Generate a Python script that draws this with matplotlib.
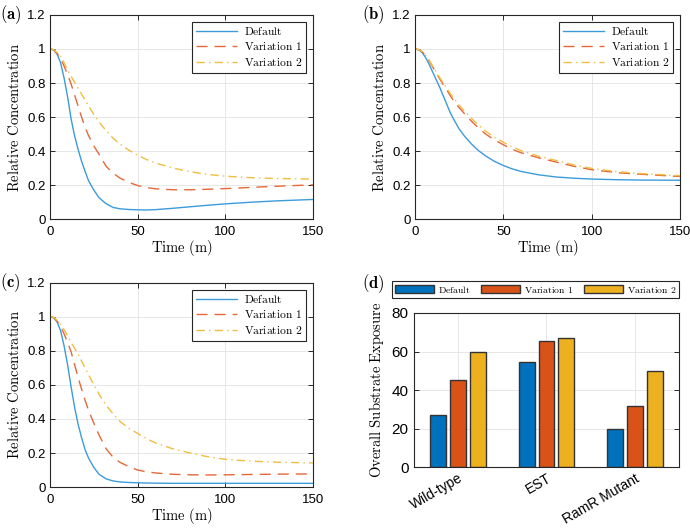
import matplotlib
matplotlib.use("Agg")
import matplotlib.pyplot as plt
import numpy as np

plt.rcParams['font.family'] = ['Liberation Sans', 'DejaVu Sans']
plt.rcParams['mathtext.fontset'] = 'cm'

# time points (minutes)
t = [0, 2, 4, 6, 8, 10, 12, 14, 16, 18, 20, 22, 25, 28, 32, 36, 40, 45, 50, 55,
     60, 70, 80, 90, 100, 115, 130, 150]

# panel (a)
a_default = [1.0, 0.995, 0.97, 0.92, 0.83, 0.72, 0.59, 0.49, 0.41, 0.34, 0.28, 0.225,
             0.17, 0.125, 0.09, 0.068, 0.06, 0.056, 0.054, 0.053, 0.055, 0.063, 0.072,
             0.081, 0.089, 0.099, 0.107, 0.115]
a_var1 = [1.0, 0.995, 0.975, 0.945, 0.9, 0.85, 0.795, 0.73, 0.665, 0.6, 0.54, 0.49,
          0.43, 0.38, 0.31, 0.27, 0.24, 0.215, 0.197, 0.185, 0.178, 0.172, 0.172,
          0.175, 0.179, 0.186, 0.193, 0.201]
a_var2 = [1.0, 0.997, 0.98, 0.955, 0.92, 0.875, 0.84, 0.805, 0.77, 0.735, 0.7, 0.665,
          0.615, 0.57, 0.52, 0.475, 0.44, 0.405, 0.375, 0.35, 0.33, 0.3, 0.278,
          0.262, 0.252, 0.243, 0.238, 0.235]

# panel (b)
b_default = [1.0, 0.995, 0.98, 0.95, 0.91, 0.865, 0.82, 0.775, 0.725, 0.675, 0.625,
             0.585, 0.53, 0.488, 0.441, 0.402, 0.371, 0.339, 0.315, 0.295, 0.28,
             0.26, 0.247, 0.24, 0.235, 0.231, 0.229, 0.228]
b_var1 = [1.0, 0.997, 0.985, 0.96, 0.93, 0.895, 0.86, 0.825, 0.79, 0.76, 0.725, 0.695,
          0.655, 0.62, 0.575, 0.535, 0.5, 0.465, 0.437, 0.41, 0.39, 0.36, 0.335,
          0.31, 0.29, 0.272, 0.262, 0.25]
b_var2 = [1.0, 0.997, 0.986, 0.963, 0.935, 0.9, 0.866, 0.832, 0.8, 0.77, 0.738, 0.71,
          0.67, 0.635, 0.592, 0.552, 0.517, 0.48, 0.452, 0.425, 0.402, 0.37, 0.344,
          0.318, 0.298, 0.278, 0.266, 0.255]

# panel (c)
c_default = [1.0, 0.995, 0.97, 0.92, 0.83, 0.72, 0.59, 0.47, 0.37, 0.29, 0.22, 0.17,
             0.115, 0.075, 0.048, 0.036, 0.03, 0.027, 0.025, 0.024, 0.023, 0.022,
             0.022, 0.022, 0.022, 0.022, 0.022, 0.022]
c_var1 = [1.0, 0.995, 0.975, 0.945, 0.9, 0.85, 0.795, 0.72, 0.645, 0.575, 0.51, 0.45,
          0.375, 0.305, 0.225, 0.175, 0.145, 0.12, 0.1, 0.09, 0.083, 0.075, 0.072,
          0.071, 0.072, 0.074, 0.076, 0.077]
c_var2 = [1.0, 0.997, 0.98, 0.955, 0.925, 0.89, 0.85, 0.815, 0.78, 0.74, 0.7, 0.66,
          0.6, 0.545, 0.48, 0.43, 0.385, 0.345, 0.315, 0.285, 0.26, 0.225, 0.2,
          0.178, 0.163, 0.152, 0.146, 0.142]

# panel (d)
strains = ['Wild-type', 'EST', 'RamR Mutant']
exp_default = [27, 54.5, 20]
exp_var1 = [45, 65.5, 31.5]
exp_var2 = [59.5, 67, 50]

series_names = ['Default', 'Variation 1', 'Variation 2']
colors = ['#0072BD', '#D95319', '#EDB120']
line_colors = ['#3C9BDB', '#E5683A', '#F0BE40']
styles = ['-', (0, (8, 5)), (0, (6, 3, 1, 3))]


def mlabel(s):
    return r'$\mathrm{' + s.replace(' ', r'\ ') + '}$'


def style_axes(ax, size):
    for sp in ax.spines.values():
        sp.set_color('#262626')
        sp.set_linewidth(0.8)
    ax.tick_params(direction='in', top=True, right=True, length=3.5, width=0.7,
                   labelsize=size, colors='#262626', labelcolor='black')
    ax.tick_params(axis='y', pad=3)
    ax.tick_params(axis='x', pad=5)
    ax.grid(True, color='#e3e3e3', linewidth=0.6)
    ax.set_axisbelow(True)


fig = plt.figure(figsize=(6.9, 5.28), dpi=100)

pos = {
    'a': [0.0725, 0.5852, 0.381, 0.3864],
    'b': [0.6014, 0.5852, 0.384, 0.3864],
    'c': [0.0725, 0.0775, 0.381, 0.387],
}
panels = {'a': (a_default, a_var1, a_var2),
          'b': (b_default, b_var1, b_var2),
          'c': (c_default, c_var1, c_var2)}

for key in ['a', 'b', 'c']:
    ax = fig.add_axes(pos[key])
    for ys, col, ls, name in zip(panels[key], line_colors, styles, series_names):
        ax.plot(t, ys, color=col, linestyle=ls, linewidth=1.0, label=mlabel(name))
    ax.set_xlim(0, 150)
    ax.set_ylim(0, 1.2)
    ax.set_xticks([0, 50, 100, 150])
    ax.set_yticks([0, 0.2, 0.4, 0.6, 0.8, 1.0, 1.2])
    ax.set_yticklabels(['0', '0.2', '0.4', '0.6', '0.8', '1', '1.2'])
    style_axes(ax, 9.5)
    ax.set_xlabel(mlabel('Time (m)'), fontsize=10.5, labelpad=0)
    ax.set_ylabel(mlabel('Relative Concentration'), fontsize=10.5, labelpad=4)
    leg = ax.legend(loc='upper right', fontsize=8.3, handlelength=3.5,
                    fancybox=False, framealpha=1, edgecolor='#262626',
                    borderaxespad=0.6, labelspacing=0.3, borderpad=0.35,
                    handletextpad=0.6)
    leg.get_frame().set_linewidth(0.8)
    lx = 0.525 if key == 'b' else 0.0
    fig.text(lx, pos[key][1] + pos[key][3], r'$\mathbf{(' + key + ')}$',
             fontsize=12, va='center', ha='left')

# panel (d): grouped bars
axd = fig.add_axes([0.6, 0.1155, 0.384, 0.2917])
x = np.arange(1, len(strains) + 1)
w = 0.18
offs = [-0.225, 0, 0.225]
for vals, col, off, name in zip([exp_default, exp_var1, exp_var2], colors, offs, series_names):
    axd.bar(x + off, vals, width=w, color=col, edgecolor='#333333', linewidth=1.0,
            label=mlabel(name))
axd.set_xlim(0.5, 3.5)
axd.set_ylim(0, 80)
axd.set_yticks([0, 20, 40, 60, 80])
axd.set_xticks(x)
style_axes(axd, 11)
axd.tick_params(axis='y', pad=4)
axd.tick_params(axis='x', length=0, pad=3, labelsize=10)
axd.set_xticklabels(strains, rotation=30, ha='right', rotation_mode='anchor')
axd.set_ylabel(mlabel('Overall Substrate Exposure'), fontsize=10.5, labelpad=4)
legd = axd.legend(loc='lower center', bbox_to_anchor=(0.4585, 1.1),
                  ncol=3, fontsize=7, handlelength=4.0,
                  handleheight=0.9, fancybox=False, framealpha=1,
                  edgecolor='#262626', borderaxespad=0, borderpad=0.3,
                  columnspacing=1.1, handletextpad=0.4)
legd.get_frame().set_linewidth(0.8)
fig.text(0.525, 1 - 284 / 528, r'$\mathbf{(d)}$', fontsize=12, va='center', ha='left')

fig.savefig('out.png', dpi=100)
